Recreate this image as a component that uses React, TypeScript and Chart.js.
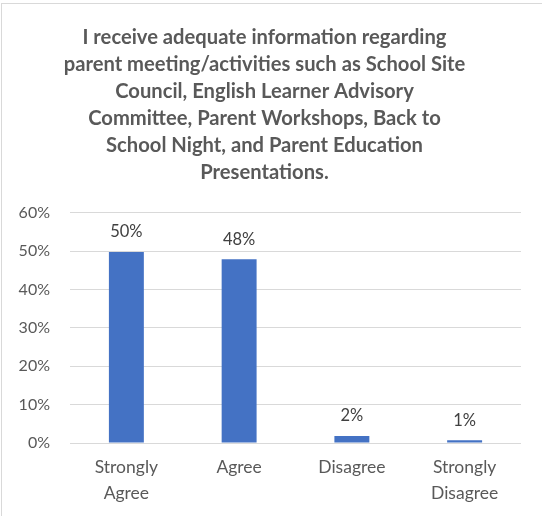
import React, { useEffect, useRef } from "react";
import { Chart, registerables } from "chart.js";

Chart.register(...registerables);

const titleLines = [
  "I receive adequate information regarding",
  "parent meeting/activities such as School Site",
  "Council, English Learner Advisory",
  "Committee, Parent Workshops, Back to",
  "School Night, and Parent Education",
  "Presentations.",
];
const categories: (string | string[])[] = [
  ["Strongly", "Agree"],
  "Agree",
  "Disagree",
  ["Strongly", "Disagree"],
];
const values = [49.8, 47.9, 1.8, 0.7];
const valueLabels = ["50%", "48%", "2%", "1%"];
const yTicks = [0, 10, 20, 30, 40, 50, 60];

const FONT = "Lato, 'Open Sans', sans-serif";

const dataLabelPlugin = {
  id: "dataLabels",
  afterDatasetsDraw(chart: any) {
    const ctx = chart.ctx;
    const meta = chart.getDatasetMeta(0);
    ctx.save();
    ctx.font = `16.5px ${FONT}`;
    ctx.fillStyle = "#404040";
    ctx.textAlign = "center";
    ctx.textBaseline = "middle";
    meta.data.forEach((bar: any, i: number) => {
      ctx.fillText(valueLabels[i], bar.x, bar.y - 20);
    });
    ctx.restore();
  },
};

export default function App() {
  const ref = useRef<HTMLCanvasElement>(null);
  useEffect(() => {
    if (!ref.current) return;
    const chart = new Chart(ref.current, {
      type: "bar",
      data: {
        labels: categories,
        datasets: [
          {
            data: values,
            backgroundColor: "#4472C4",
            barPercentage: 0.31,
            categoryPercentage: 1,
          },
        ],
      },
      options: {
        animation: false,
        responsive: false,
        layout: { padding: { top: 0, right: 21, bottom: 0, left: 8 } },
        plugins: {
          legend: { display: false },
          tooltip: { enabled: false },
          title: {
            display: true,
            text: titleLines,
            color: "#595959",
            font: { family: FONT, size: 20.2, weight: "bold", lineHeight: 1.335 },
            padding: { top: 24, bottom: 27 },
          },
        },
        scales: {
          x: {
            grid: { display: false, drawTicks: false },
            border: { display: false },
            ticks: {
              color: "#595959",
              font: { family: FONT, size: 17.5, lineHeight: 1.45 },
              padding: 12,
              maxRotation: 0,
              autoSkip: false,
            },
            afterFit: (scale: any) => {
              scale.height = 73;
            },
          },
          y: {
            min: 0,
            max: 60,
            afterBuildTicks: (scale: any) => {
              scale.ticks = yTicks.map((v) => ({ value: v }));
            },
            grid: { color: "#D9D9D9", lineWidth: 1, drawTicks: false },
            border: { display: false },
            ticks: {
              color: "#595959",
              font: { family: FONT, size: 16 },
              padding: 20,
              callback: (v: any) => `${v}%`,
            },
            afterFit: (scale: any) => {
              scale.width = 62;
            },
          },
        },
      },
      plugins: [dataLabelPlugin],
    });
    return () => chart.destroy();
  }, []);
  return (
    <div style={{ position: "fixed", left: 0, top: 0, width: 542, height: 516, background: "#fff" }}>
      <div
        style={{
          position: "absolute",
          left: 1,
          top: 3,
          width: 600,
          height: 600,
          border: "1px solid #D9D9D9",
          boxSizing: "border-box",
        }}
      />
      <canvas ref={ref} width={542} height={516} style={{ position: "absolute", left: 0, top: 0 }} />
    </div>
  );
}
